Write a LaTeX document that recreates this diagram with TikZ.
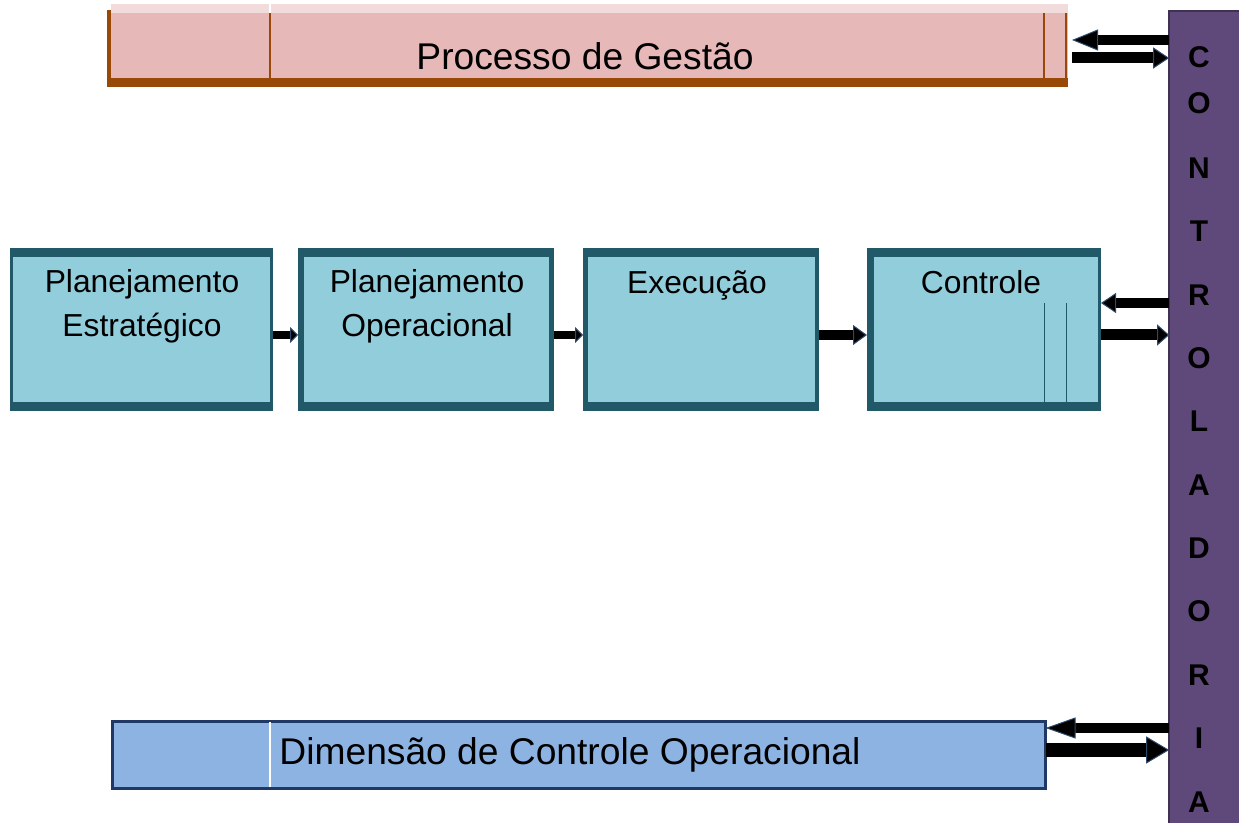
\documentclass[tikz,border=0pt]{standalone}
\usepackage{fontspec}
\setmainfont{Liberation Sans}
\usetikzlibrary{arrows.meta,fit,calc}
\definecolor{pinkF}{HTML}{E6B9B8}
\definecolor{pinkL}{HTML}{F2DCDB}
\definecolor{brownB}{HTML}{984807}
\definecolor{tealD}{HTML}{215968}
\definecolor{tealF}{HTML}{92CDDC}
\definecolor{blueF}{HTML}{8DB3E2}
\definecolor{navyB}{HTML}{1F3864}
\definecolor{purpF}{HTML}{5F497A}
\definecolor{purpD}{HTML}{3F3151}
\definecolor{arrOut}{HTML}{2E4A6B}
\begin{document}
\begin{tikzpicture}[x=0.5pt,y=-0.5pt,
  plain/.style={inner sep=0pt, outer sep=0pt},
  outerbox/.style={plain, fill=tealD},
  innerbox/.style={plain, fill=tealF},
  boxtext/.style={anchor=base, inner sep=0pt, font=\fontsize{15.9}{18}\selectfont},
  bigtext/.style={anchor=base, inner sep=0pt, font=\fontsize{18.6}{22}\selectfont},
  letter/.style={inner sep=0pt, font=\bfseries\fontsize{15}{18}\selectfont},
  conn/.style args={#1/#2/#3}{draw=black, line width=#1,
    -{Triangle[length=#2,width=#3,fill=black,line width=0.5pt,color=arrOut]}}
]
\useasboundingbox (0,0) rectangle (1239,823);

% Processo de Gestao
\node[plain, fill=brownB, fit={(107,10)(1068,87)}] (pgb) {};
\node[plain, fill=pinkL, fit={(111,4)(1068,13)}] (pgs) {};
\node[plain, fill=pinkF, fit={(111,13)(1068,78)}] (pg) {};
\draw[brownB, line width=0.6pt] (270,13) -- (270,78);
\draw[brownB, line width=0.6pt] (1044,13) -- (1044,78);
\draw[brownB, line width=0.6pt] (1066,13) -- (1066,78);
\draw[white, line width=0.6pt] (270,4) -- (270,13);
\node[bigtext] (pgt) at (585,70) {Processo de Gestão};

% Controladoria bar
\node[plain, fill=purpF, draw=purpD, line width=1.2pt, fit={(1169.2,11.2)(1245,830)}] (cb) {};
\foreach \l/\y [count=\i] in {C/57,O/103,N/168,T/231,R/295,O/358,L/421,A/485,D/548,O/611,R/675,I/738,A/802}
  \node[letter] (L\i) at (1199,\y) {\l};

% Process boxes
\node[outerbox, fit={(10,248)(273,411)}] (b1) {};
\node[innerbox, fit={(13,257)(270,402)}] (b1i) {};
\node[outerbox, fit={(298,248)(554,411)}] (b2) {};
\node[innerbox, fit={(304,257)(549,402)}] (b2i) {};
\node[outerbox, fit={(583,248)(819,411)}] (b3) {};
\node[innerbox, fit={(588,257)(815,402)}] (b3i) {};
\node[outerbox, fit={(867,248)(1101,411)}] (b4) {};
\node[innerbox, fit={(874,257)(1098,402)}] (b4i) {};
\draw[tealD, line width=0.5pt] (1044,303) -- (1044,402);
\draw[tealD, line width=0.5pt] (1066,303) -- (1066,402);

\node[boxtext] (t1a) at (142,293) {Planejamento};
\node[boxtext] (t1b) at (142,337) {Estratégico};
\node[boxtext] (t2a) at (427,293) {Planejamento};
\node[boxtext] (t2b) at (427,337) {Operacional};
\node[boxtext] (t3) at (697,294) {Execução};
\node[boxtext] (t4) at (981,294) {Controle};

% Dimensao box
\node[plain, fill=blueF, draw=navyB, line width=1.5pt, fit={(112.5,721.5)(1045.5,788.5)}] (dc) {};
\draw[white, line width=0.6pt] (270,722.5) -- (270,787.5);
\node[bigtext] (dct) at (570,765) {Dimensão de Controle Operacional};

% connectors
\draw[conn=4pt/4pt/8pt] (b1.east |- 0,335) -- (b2.west |- 0,335);
\draw[conn=4pt/4pt/8pt] (b2.east |- 0,335) -- (b3.west |- 0,335);
\draw[conn=5pt/7pt/10pt] (b3.east |- 0,335) -- (b4.west |- 0,335);
\draw[conn=5pt/7.5pt/10pt] (cb.west |- 0,303) -- (b4.east |- 0,303);
\draw[conn=5.5pt/6pt/10.5pt] (b4.east |- 0,335) -- (cb.west |- 0,335);
\draw[conn=5pt/13pt/10.5pt, shorten >=2pt] (cb.west |- 0,40) -- (pg.east |- 0,40);
\draw[conn=5.5pt/8pt/10.5pt, shorten <=2pt] (pg.east |- 0,58) -- (cb.west |- 0,58);
\draw[conn=5pt/15pt/10.5pt] (cb.west |- 0,728) -- (dc.east |- 0,728);
\draw[conn=7pt/11.5pt/13.5pt] (dc.east |- 0,750) -- (cb.west |- 0,750);
\end{tikzpicture}
\end{document}
